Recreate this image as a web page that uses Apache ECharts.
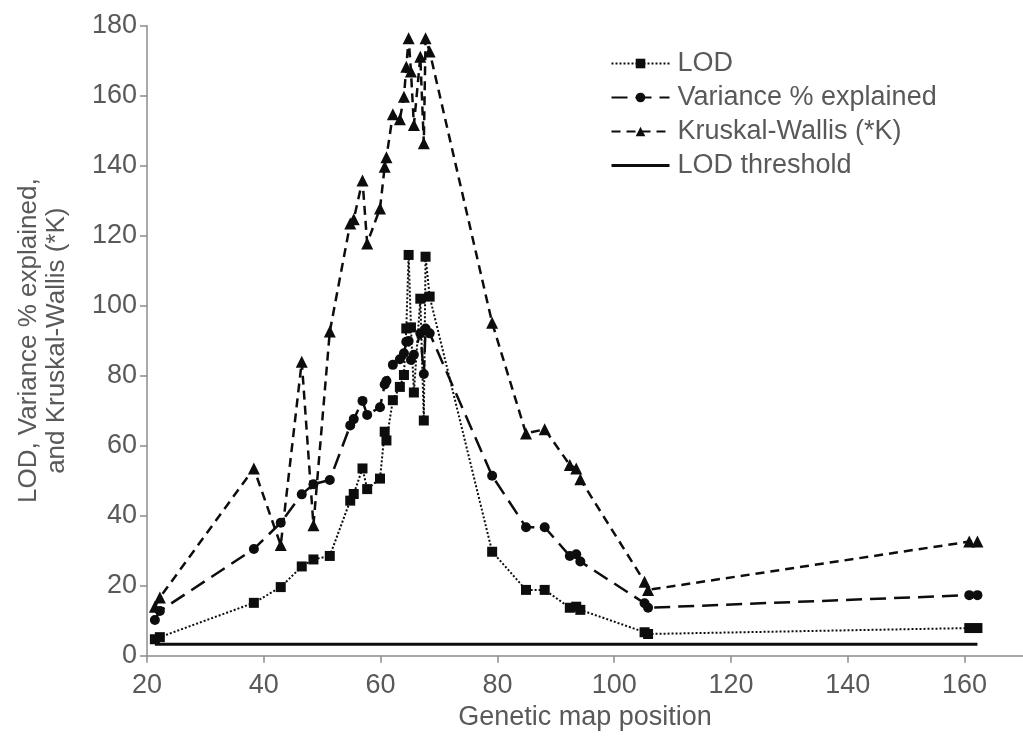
<!DOCTYPE html>
<html>
<head>
<meta charset="utf-8">
<script src="https://cdn.jsdelivr.net/npm/echarts@6/dist/echarts.min.js"></script>
<style>
html,body{margin:0;padding:0;background:#fff;}
#chart{width:1023px;height:740px;}
</style>
</head>
<body>
<div id="chart"></div>
<script>
// Genetic map positions (shared by all series)
const positions = [21.35, 22.2, 38.3, 42.9, 46.5, 48.5, 51.3, 54.8, 55.4, 56.9, 57.7, 59.9, 60.7, 61.0, 62.1, 63.3, 64.0, 64.4, 64.8, 65.2, 65.7, 66.8, 67.4, 67.7, 68.4, 79.1, 84.9, 88.1, 92.4, 93.5, 94.2, 105.2, 105.8, 160.8, 162.2];
const lod = [4.7, 5.3, 15.1, 19.6, 25.5, 27.5, 28.5, 44.3, 46.2, 53.5, 47.6, 50.6, 64.0, 61.5, 73.0, 76.8, 80.2, 93.5, 114.5, 93.8, 75.2, 102.0, 67.2, 114.0, 102.6, 29.7, 18.8, 18.8, 13.7, 14.0, 13.1, 6.7, 6.2, 7.9, 7.9];
const variance = [10.2, 12.8, 30.5, 38.0, 46.1, 49.0, 50.2, 65.8, 67.6, 72.8, 68.8, 71.0, 77.5, 78.5, 83.1, 84.7, 86.4, 89.7, 89.9, 84.5, 86.0, 92.1, 80.5, 93.5, 92.1, 51.4, 36.7, 36.7, 28.5, 29.0, 26.9, 15.0, 13.7, 17.3, 17.3];
const kruskal = [14.0, 16.6, 53.5, 31.6, 84.0, 37.3, 92.6, 123.5, 124.7, 135.8, 117.8, 127.8, 139.7, 142.4, 154.7, 153.3, 159.7, 168.3, 176.4, 166.9, 151.6, 171.1, 146.4, 176.4, 172.6, 95.1, 63.5, 64.7, 54.5, 53.5, 50.4, 21.1, 18.8, 32.6, 32.6];
const lodThreshold = 3.3;
const seriesNames = ['LOD', 'Variance % explained', 'Kruskal-Wallis (*K)', 'LOD threshold'];
const xTicks = {min: 20, max: 170, interval: 20};
const yTicks = {min: 0, max: 180, interval: 20};

const pair = arr => positions.map((x, i) => [x, arr[i]]);
const thresholdData = [[positions[0], lodThreshold], [positions[positions.length - 1], lodThreshold]];

const ink = '#0d0d0d';
const textColor = '#595959';
const axisColor = '#8c8c8c';
const font = 'Liberation Sans, Arial, sans-serif';
const fs = 27;

const chart = echarts.init(document.getElementById('chart'), null, {renderer: 'canvas'});
chart.setOption({
  animation: false,
  backgroundColor: '#fff',
  grid: {left: 147, right: -11, top: 25.7, bottom: 84.3, containLabel: false},
  legend: {
    orient: 'vertical',
    left: 605,
    top: 45,
    itemWidth: 58,
    itemHeight: 12,
    itemGap: 7,
    textStyle: {fontSize: fs, color: textColor, fontFamily: font, padding: [0, 0, 0, 3]},
    data: [
      seriesNames[0], seriesNames[1], seriesNames[2],
      {name: seriesNames[3], itemStyle: {opacity: 0}, lineStyle: {width: 3, color: ink, type: 'solid'}}
    ]
  },
  xAxis: {
    type: 'value',
    min: xTicks.min, max: xTicks.max, interval: xTicks.interval,
    name: 'Genetic map position',
    nameLocation: 'middle',
    nameGap: 46,
    nameTextStyle: {fontSize: fs, color: textColor, fontFamily: font},
    axisLine: {lineStyle: {color: axisColor, width: 1.5}},
    axisTick: {show: true, inside: false, length: 7, lineStyle: {color: axisColor, width: 1.5}},
    axisLabel: {fontSize: fs, color: textColor, fontFamily: font, margin: 16, showMaxLabel: false},
    splitLine: {show: false}
  },
  yAxis: {
    type: 'value',
    min: yTicks.min, max: yTicks.max, interval: yTicks.interval,
    name: 'LOD, Variance % explained,\nand Kruskal-Wallis (*K)',
    nameLocation: 'middle',
    nameGap: 76,
    nameTextStyle: {fontSize: 26, color: textColor, fontFamily: font, lineHeight: 28},
    axisLine: {show: true, lineStyle: {color: axisColor, width: 1.5}},
    axisTick: {show: true, inside: false, length: 7, lineStyle: {color: axisColor, width: 1.5}},
    axisLabel: {fontSize: fs, color: textColor, fontFamily: font, margin: 10},
    splitLine: {show: false}
  },
  series: [
    {
      name: seriesNames[0], type: 'line', data: pair(lod),
      symbol: 'rect', symbolSize: 10,
      lineStyle: {color: ink, width: 2, type: [2, 2]},
      itemStyle: {color: ink}, z: 4
    },
    {
      name: seriesNames[1], type: 'line', data: pair(variance),
      symbol: 'circle', symbolSize: 10,
      lineStyle: {color: ink, width: 2.5, type: [16, 8]},
      itemStyle: {color: ink}, z: 3
    },
    {
      name: seriesNames[2], type: 'line', data: pair(kruskal),
      symbol: 'triangle', symbolSize: 12,
      lineStyle: {color: ink, width: 2.5, type: [9, 6]},
      itemStyle: {color: ink}, z: 2
    },
    {
      name: seriesNames[3], type: 'line', data: thresholdData,
      symbol: 'none',
      lineStyle: {color: ink, width: 3, type: 'solid'},
      itemStyle: {color: ink}, z: 1
    }
  ]
});
</script>
</body>
</html>
